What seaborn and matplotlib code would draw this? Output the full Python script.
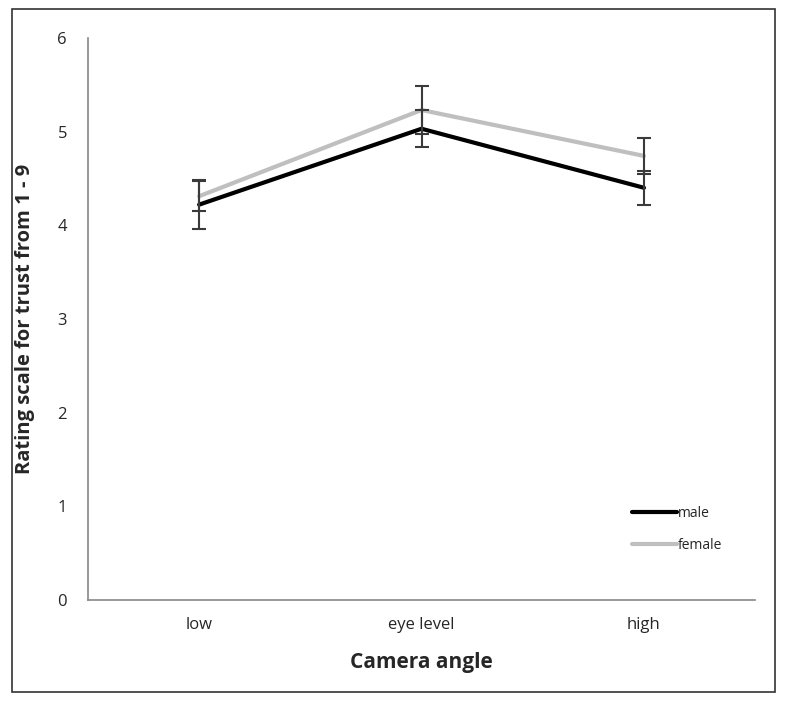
import pandas as pd
import matplotlib.pyplot as plt
import seaborn as sns
from matplotlib.patches import Rectangle

# data
angles = ["low", "eye level", "high"]
male = [4.22, 5.03, 4.40]
male_err = [0.26, 0.20, 0.18]
female = [4.31, 5.23, 4.74]
female_err = [0.16, 0.26, 0.19]

df = pd.DataFrame({
    "pos": list(range(len(angles))) * 2,
    "rating": male + female,
    "err": male_err + female_err,
    "group": ["male"] * 3 + ["female"] * 3,
})

sns.set_style("white")
plt.rcParams["font.family"] = ["Open Sans", "DejaVu Sans"]

fig = plt.figure(figsize=(7.85, 7.01), dpi=100)
ax = fig.add_axes([0.112, 0.144, 0.85, 0.802])

# outer frame
fig.patches.append(Rectangle((12 / 785, 9 / 701), 763 / 785, 683 / 701,
                             transform=fig.transFigure, fill=False,
                             edgecolor="#333333", linewidth=1.2))

colors = {"male": "#000000", "female": "#bfbfbf"}
sns.lineplot(data=df, x="pos", y="rating", hue="group", palette=colors,
             hue_order=["male", "female"], linewidth=3, ax=ax, zorder=2)

# error bars
for g in ["female", "male"]:
    sub = df[df["group"] == g]
    ax.errorbar(sub["pos"], sub["rating"], yerr=sub["err"], fmt="none",
                ecolor="#3a3a3a", elinewidth=1.5, capsize=5, capthick=1.5, zorder=3)

ax.set_xlim(-0.5, 2.5)
ax.set_ylim(0, 6)
ax.set_yticks(range(0, 7))
ax.set_xticks(range(len(angles)))
ax.set_xticklabels(angles)
ax.set_xticks([-0.5, 0.5, 1.5, 2.5], minor=True)
ax.tick_params(axis="x", which="major", length=0, pad=12, labelsize=12)
ax.tick_params(axis="x", which="minor", length=6, width=1, color="#888888", direction="out")
ax.tick_params(axis="y", length=5, width=1, color="#888888", direction="out", pad=10, labelsize=12)

for s in ["top", "right"]:
    ax.spines[s].set_visible(False)
for s in ["left", "bottom"]:
    ax.spines[s].set_color("#888888")
    ax.spines[s].set_linewidth(1.2)

ax.set_xlabel("Camera angle", fontsize=15, fontweight="bold", labelpad=14)
ax.set_ylabel("Rating scale for trust from 1 - 9", fontsize=14.5, fontweight="bold", labelpad=16)

leg = ax.legend(loc="lower right", bbox_to_anchor=(0.97, 0.062), frameon=False,
                fontsize=10, handlelength=3.2, handletextpad=0.1, labelspacing=1.2)

fig.savefig("out.png", dpi=100)
